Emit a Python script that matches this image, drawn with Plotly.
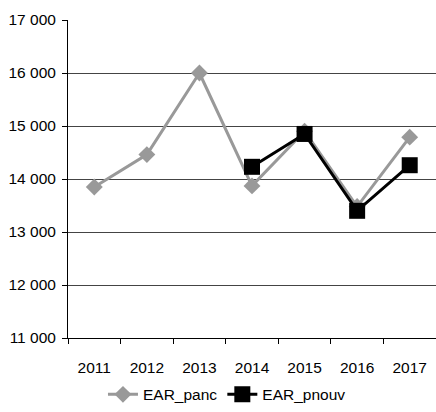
import plotly.graph_objects as go

years = ["2011", "2012", "2013", "2014", "2015", "2016", "2017"]
ear_panc = [13850, 14460, 16000, 13870, 14900, 13480, 14790]
ear_pnouv = [None, None, None, 14230, 14850, 13400, 14260]
y_ticks = [11000, 12000, 13000, 14000, 15000, 16000, 17000]
y_labels = ["11 000", "12 000", "13 000", "14 000", "15 000", "16 000", "17 000"]

fig = go.Figure()
fig.add_trace(go.Scatter(
    x=years, y=ear_panc, name="EAR_panc", mode="lines+markers",
    line=dict(color="#999999", width=3),
    marker=dict(symbol="diamond", size=13, color="#999999"),
))
fig.add_trace(go.Scatter(
    x=years, y=ear_pnouv, name="EAR_pnouv", mode="lines+markers",
    line=dict(color="#000000", width=3),
    marker=dict(symbol="square", size=16, color="#000000"),
))

fig.update_layout(
    width=436, height=412,
    margin=dict(l=68, r=0, t=20, b=74),
    paper_bgcolor="white", plot_bgcolor="white",
    font=dict(family="Liberation Sans, Arial, sans-serif", size=15.5, color="#000000"),
    showlegend=True,
    legend=dict(orientation="h", x=0.432, xanchor="center", y=-0.125, yanchor="top",
                font=dict(size=15.5), itemwidth=30, tracegroupgap=0),
)
fig.update_xaxes(
    type="category", showline=True, linecolor="#000000", linewidth=1,
    ticks="outside", tickson="boundaries", ticklen=5, tickcolor="#000000",
    ticklabelstandoff=15,
    showgrid=False, range=[-0.5, 6.5],
)
fig.update_yaxes(
    range=[11000, 17000], tickvals=y_ticks, ticktext=y_labels,
    showline=True, linecolor="#000000", linewidth=1,
    ticks="outside", ticklen=5, tickcolor="#000000",
    ticklabelstandoff=3,
    showgrid=True, gridcolor="#444444", gridwidth=1, zeroline=False,
)

fig.write_html("out.html")
